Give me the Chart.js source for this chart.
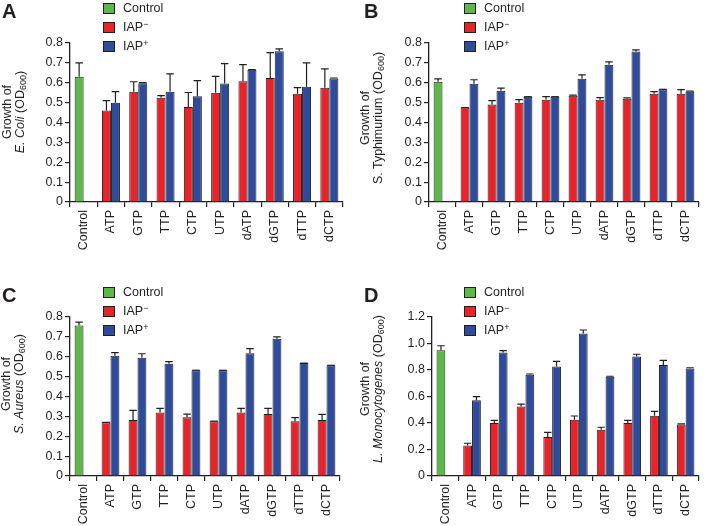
<!DOCTYPE html>
<html lang="en">
<head>
    <meta charset="UTF-8">
    <title>IAP and nucleotide growth</title>
    <script src="https://cdn.jsdelivr.net/npm/chart.js"></script>
    <style>
        body { margin: 0; background: #fff; font-family: "Liberation Sans", Arial, sans-serif; color: #231f20; }
        #page { position: relative; width: 704px; height: 526px; overflow: hidden; }
        .panel { position: absolute; }
        .letter { position: absolute; font-weight: bold; font-size: 20px; line-height: 20px; }
        .legend { position: absolute; font-size: 12.5px; }
        .legend div { height: 19px; line-height: 19px; position: relative; padding-left: 20px; white-space: nowrap; }
        .legend sup { font-size: 9px; line-height: 0; vertical-align: 4px; }
        .legend span.sw { position: absolute; left: 0; top: 4px; width: 10px; height: 9px; border: 1px solid #231f20; }
        .ytitle { position: absolute; width: 200px; height: 26px; text-align: center; font-size: 12.5px; line-height: 13px; transform: rotate(-90deg); white-space: nowrap; }
        .ytitle sub { font-size: 9px; vertical-align: -2px; line-height: 0; }
    </style>
</head>
<body>
<div id="page">
    <div class="panel" style="left:0;top:0;width:352px;height:260px"><canvas id="chartA"></canvas></div>
    <div class="panel" style="left:352px;top:0;width:352px;height:260px"><canvas id="chartB"></canvas></div>
    <div class="panel" style="left:0;top:260px;width:352px;height:266px"><canvas id="chartC"></canvas></div>
    <div class="panel" style="left:352px;top:260px;width:352px;height:266px"><canvas id="chartD"></canvas></div>

    <div class="letter" style="left:2px;top:1px">A</div>
    <div class="letter" style="left:364px;top:1px">B</div>
    <div class="letter" style="left:2px;top:285px">C</div>
    <div class="letter" style="left:364px;top:285px">D</div>

    <!-- legends -->
    <div class="legend" style="left:103px;top:-1px">
        <div><span class="sw" style="background:#5cb849"></span>Control</div>
        <div><span class="sw" style="background:#e8232a"></span>IAP<sup>&minus;</sup></div>
        <div><span class="sw" style="background:#2e4b9c"></span>IAP<sup>+</sup></div>
    </div>
    <div class="legend" style="left:464px;top:-1px">
        <div><span class="sw" style="background:#5cb849"></span>Control</div>
        <div><span class="sw" style="background:#e8232a"></span>IAP<sup>&minus;</sup></div>
        <div><span class="sw" style="background:#2e4b9c"></span>IAP<sup>+</sup></div>
    </div>
    <div class="legend" style="left:103px;top:283px">
        <div><span class="sw" style="background:#5cb849"></span>Control</div>
        <div><span class="sw" style="background:#e8232a"></span>IAP<sup>&minus;</sup></div>
        <div><span class="sw" style="background:#2e4b9c"></span>IAP<sup>+</sup></div>
    </div>
    <div class="legend" style="left:464px;top:283px">
        <div><span class="sw" style="background:#5cb849"></span>Control</div>
        <div><span class="sw" style="background:#e8232a"></span>IAP<sup>&minus;</sup></div>
        <div><span class="sw" style="background:#2e4b9c"></span>IAP<sup>+</sup></div>
    </div>

    <!-- y axis titles, rotated -->
    <div class="ytitle" style="left:-86px;top:99px">Growth of<br><i>E. Coli</i> (OD<sub>600</sub>)</div>
    <div class="ytitle" style="left:272px;top:105px">Growth of<br>S. Typhimurium (OD<sub>600</sub>)</div>
    <div class="ytitle" style="left:-87px;top:371px">Growth of<br><i>S. Aureus</i> (OD<sub>600</sub>)</div>
    <div class="ytitle" style="left:272px;top:376px">Growth of<br><i>L. Monocytogenes</i> (OD<sub>600</sub>)</div>
</div>

<script>
    const categories = ['Control', 'ATP', 'GTP', 'TTP', 'CTP', 'UTP', 'dATP', 'dGTP', 'dTTP', 'dCTP'];
    const yTicksLow = [0, 0.1, 0.2, 0.3, 0.4, 0.5, 0.6, 0.7, 0.8];
    const yTicksHigh = [0, 0.2, 0.4, 0.6, 0.8, 1.0, 1.2];

    // A: E. coli
    const controlA = 0.63, controlErrA = 0.07;
    const minusA = [0.46, 0.555, 0.525, 0.478, 0.55, 0.607, 0.624, 0.545, 0.575];
    const minusErrA = [0.05, 0.05, 0.01, 0.073, 0.082, 0.084, 0.128, 0.03, 0.095];
    const plusA = [0.50, 0.598, 0.555, 0.532, 0.596, 0.666, 0.758, 0.58, 0.622];
    const plusErrA = [0.055, 0.003, 0.09, 0.079, 0.1, 0, 0.012, 0.12, 0.002];

    // B: S. Typhimurium
    const controlB = 0.605, controlErrB = 0.015;
    const minusB = [0.475, 0.49, 0.50, 0.515, 0.535, 0.515, 0.52, 0.545, 0.545];
    const minusErrB = [0, 0.02, 0.015, 0.015, 0.003, 0.01, 0.004, 0.01, 0.02];
    const plusB = [0.595, 0.56, 0.53, 0.53, 0.62, 0.69, 0.757, 0.567, 0.555];
    const plusErrB = [0.02, 0.013, 0, 0, 0.02, 0.015, 0.008, 0, 0.003];

    // C: S. Aureus
    const controlC = 0.757, controlErrC = 0.017;
    const minusC = [0.27, 0.282, 0.32, 0.295, 0.276, 0.32, 0.312, 0.276, 0.282];
    const minusErrC = [0, 0.048, 0.02, 0.016, 0, 0.02, 0.028, 0.018, 0.028];
    const plusC = [0.605, 0.595, 0.565, 0.532, 0.532, 0.617, 0.69, 0.568, 0.557];
    const plusErrC = [0.016, 0.02, 0.01, 0, 0, 0.024, 0.01, 0, 0];

    // D: L. Monocytogenes
    const controlD = 0.95, controlErrD = 0.033;
    const minusD = [0.23, 0.40, 0.525, 0.295, 0.425, 0.35, 0.40, 0.455, 0.388];
    const minusErrD = [0.017, 0.02, 0.018, 0.035, 0.028, 0.018, 0.02, 0.033, 0.005];
    const plusD = [0.572, 0.932, 0.765, 0.827, 1.075, 0.75, 0.902, 0.838, 0.812];
    const plusErrD = [0.027, 0.014, 0.005, 0.038, 0.027, 0.003, 0.017, 0.035, 0.005];

    const green = '#5cb849', red = '#e8232a', blue = '#2e4b9c', ink = '#231f20';

    // upward-only error bars with caps
    const errorBars = {
        id: 'errorBars',
        afterDatasetsDraw(chart) {
            const ctx = chart.ctx;
            const y = chart.scales.y;
            ctx.save();
            ctx.strokeStyle = ink;
            ctx.lineWidth = 1.2;
            chart.data.datasets.forEach((ds, i) => {
                const meta = chart.getDatasetMeta(i);
                meta.data.forEach((bar, j) => {
                    const v = ds.data[j];
                    const e = ds.errors[j];
                    if (v == null || e == null) return;
                    const top = y.getPixelForValue(v + e);
                    const half = bar.width * 0.42;
                    ctx.beginPath();
                    ctx.moveTo(bar.x, bar.y);
                    ctx.lineTo(bar.x, top);
                    ctx.moveTo(bar.x - half, top);
                    ctx.lineTo(bar.x + half, top);
                    ctx.stroke();
                });
            });
            ctx.restore();
        }
    };

    function makePanel(id, control, controlErr, minus, minusErr, plus, plusErr, ticks, box) {
        const pad = [null];
        const font = { family: '"Liberation Sans", Arial, sans-serif', size: 12.5 };
        new Chart(document.getElementById(id), {
            type: 'bar',
            data: {
                labels: categories,
                datasets: [
                    { label: 'Control', data: [control].concat(Array(9).fill(null)), errors: [controlErr], stack: 'a', backgroundColor: green },
                    { label: 'IAP-', data: pad.concat(minus), errors: pad.concat(minusErr), stack: 'a', backgroundColor: red },
                    { label: 'IAP+', data: pad.concat(plus), errors: pad.concat(plusErr), stack: 'b', backgroundColor: blue }
                ]
            },
            options: {
                responsive: true,
                maintainAspectRatio: false,
                animation: false,
                datasets: { bar: { categoryPercentage: 0.66, barPercentage: 1.0, borderColor: ink, borderWidth: 1 } },
                layout: { padding: { top: box.top, right: box.right, left: 0, bottom: 0 } },
                plugins: { legend: { display: false }, tooltip: { enabled: false } },
                scales: {
                    x: {
                        grid: { display: true, drawOnChartArea: false, drawTicks: true, tickLength: 5, color: ink, lineWidth: 1.2, offset: true },
                        border: { display: true, color: ink, width: 1.3 },
                        ticks: { minRotation: 90, maxRotation: 90, color: ink, font: font, padding: 3, autoSkip: false },
                        afterFit: s => { s.height = box.xh; }
                    },
                    y: {
                        stacked: false,
                        min: 0,
                        max: ticks[ticks.length - 1],
                        afterBuildTicks: s => { s.ticks = ticks.map(v => ({ value: v })); },
                        grid: { display: true, drawOnChartArea: false, drawTicks: true, tickLength: 5, color: ink, lineWidth: 1.2 },
                        border: { display: true, color: ink, width: 1.3 },
                        ticks: { color: ink, font: font, padding: 2, callback: v => v === 0 ? '0' : v.toFixed(1) },
                        afterFit: s => { s.width = box.left; }
                    }
                }
            },
            plugins: [errorBars]
        });
    }

    makePanel('chartA', controlA, controlErrA, minusA, minusErrA, plusA, plusErrA, yTicksLow, { top: 43, right: 9, left: 70, xh: 58 });
    makePanel('chartB', controlB, controlErrB, minusB, minusErrB, plusB, plusErrB, yTicksLow, { top: 43, right: 5, left: 77, xh: 58 });
    makePanel('chartC', controlC, controlErrC, minusC, minusErrC, plusC, plusErrC, yTicksLow, { top: 57, right: 12, left: 70, xh: 50 });
    makePanel('chartD', controlD, controlErrD, minusD, minusErrD, plusD, plusErrD, yTicksHigh, { top: 57, right: 5, left: 80, xh: 50 });
</script>
</body>
</html>
